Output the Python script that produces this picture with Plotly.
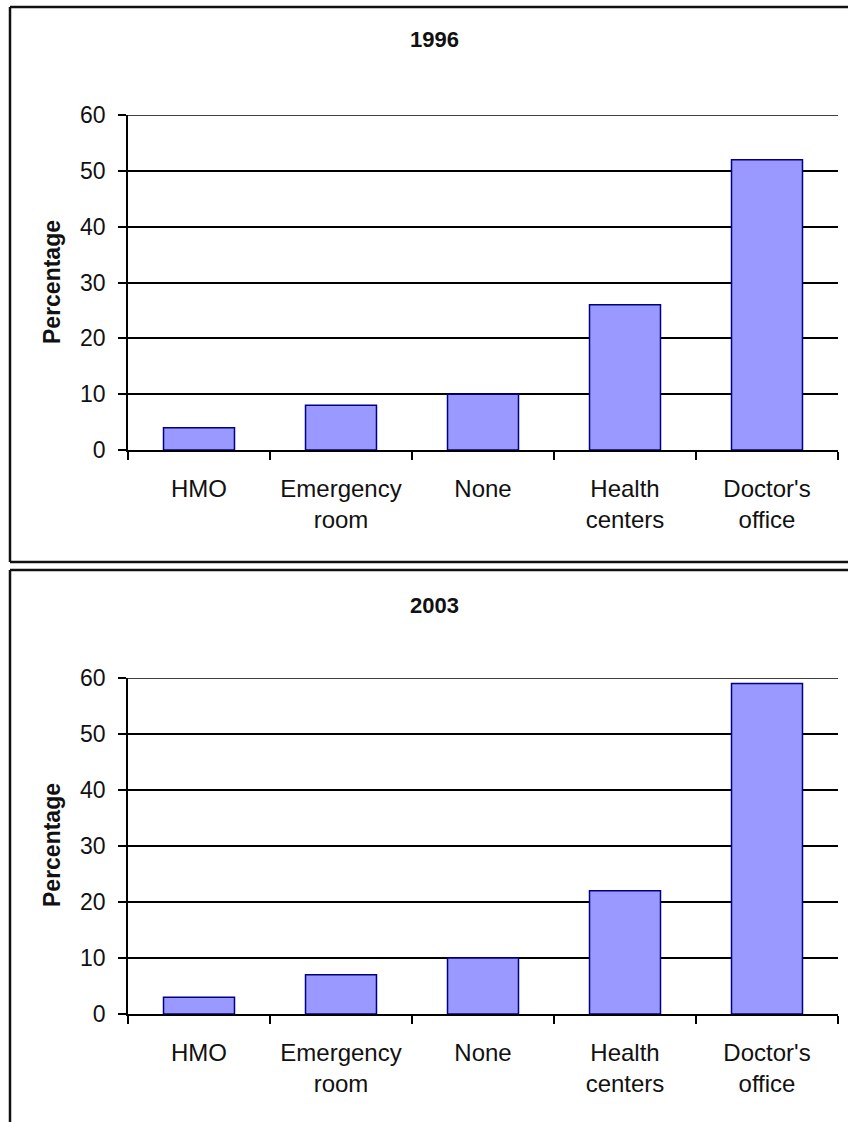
import plotly.graph_objects as go

categories = ["HMO", "Emergency<br>room", "None", "Health<br>centers", "Doctor's<br>office"]
values_1996 = [4, 8, 10, 26, 52]
values_2003 = [3, 7, 10, 22, 59]
panel_titles = ["1996", "2003"]
y_ticks = [0, 10, 20, 30, 40, 50, 60]
y_max = 60

W, H = 848, 1122
FONT = "Liberation Sans, Arial, sans-serif"
BAR_FILL = "#9999FF"
BAR_LINE = "#000080"

def px_x(p):
    return p / W

def px_y(p):
    return 1 - p / H

fig = go.Figure()
fig.add_trace(go.Bar(x=categories, y=values_1996, xaxis="x", yaxis="y",
                     marker=dict(color=BAR_FILL, line=dict(color=BAR_LINE, width=1.5)),
                     showlegend=False, hoverinfo="x+y"))
fig.add_trace(go.Bar(x=categories, y=values_2003, xaxis="x2", yaxis="y2",
                     marker=dict(color=BAR_FILL, line=dict(color=BAR_LINE, width=1.5)),
                     showlegend=False, hoverinfo="x+y"))

xdom = [px_x(128), px_x(838)]
common_x = dict(domain=xdom, type="category", showline=True, linecolor="black", linewidth=1.5,
                ticks="outside", tickson="boundaries", ticklen=8, tickcolor="black", tickwidth=1.5,
                showgrid=False, tickfont=dict(family=FONT, size=24, color="#111"),
                ticklabelstandoff=16, zeroline=False, automargin=False)
common_y = dict(range=[0, y_max], tickvals=y_ticks, showline=True, linecolor="black", linewidth=1.5,
                ticks="outside", ticklen=8, tickcolor="black", tickwidth=1.5,
                showgrid=True, gridcolor="black", gridwidth=1.5,
                tickfont=dict(family=FONT, size=23, color="#111"), zeroline=False,
                ticklabelstandoff=8, automargin=False)

fig.update_layout(
    width=W, height=H,
    margin=dict(l=0, r=0, t=0, b=0, pad=0, autoexpand=False),
    paper_bgcolor="white", plot_bgcolor="white",
    bargap=0.5,
    xaxis=dict(anchor="y", **common_x),
    yaxis=dict(anchor="x", domain=[px_y(450), px_y(115)], **common_y),
    xaxis2=dict(anchor="y2", **common_x),
    yaxis2=dict(anchor="x2", domain=[px_y(1014), px_y(678)], **common_y),
)

# top gridline at the range edge (Plotly skips it)
for xr, yr in [("x domain", "y"), ("x2 domain", "y2")]:
    fig.add_shape(type="line", xref=xr, yref=yr, x0=0, x1=1, y0=y_max, y1=y_max,
                  line=dict(color="black", width=1.5), layer="below")

# panel borders (left, top, bottom edges; right side runs off the page)
border = dict(color="#111", width=2.5)
def hline(x0, x1, y):
    fig.add_shape(type="line", xref="paper", yref="paper", x0=px_x(x0), x1=px_x(x1),
                  y0=px_y(y), y1=px_y(y), line=border, layer="below")
def vline(x, y0, y1):
    fig.add_shape(type="line", xref="paper", yref="paper", x0=px_x(x), x1=px_x(x),
                  y0=px_y(y0), y1=px_y(y1), line=border, layer="below")

hline(10, 848, 7)
hline(10, 848, 562)
vline(10, 7, 562)
hline(10, 848, 570)
vline(10, 570, 1122)

# titles and y-axis titles
for title, ty, ly in [(panel_titles[0], 40, 282), (panel_titles[1], 605, 845)]:
    fig.add_annotation(x=px_x(434), y=px_y(ty), xref="paper", yref="paper",
                       xanchor="center", yanchor="middle",
                       text="<b>%s</b>" % title, showarrow=False,
                       font=dict(family=FONT, size=22, color="#111"))
    fig.add_annotation(x=px_x(52), y=px_y(ly), xref="paper", yref="paper",
                       xanchor="center", yanchor="middle",
                       text="<b>Percentage</b>", textangle=-90, showarrow=False,
                       font=dict(family=FONT, size=23, color="#111"))

fig.write_html("out.html")
